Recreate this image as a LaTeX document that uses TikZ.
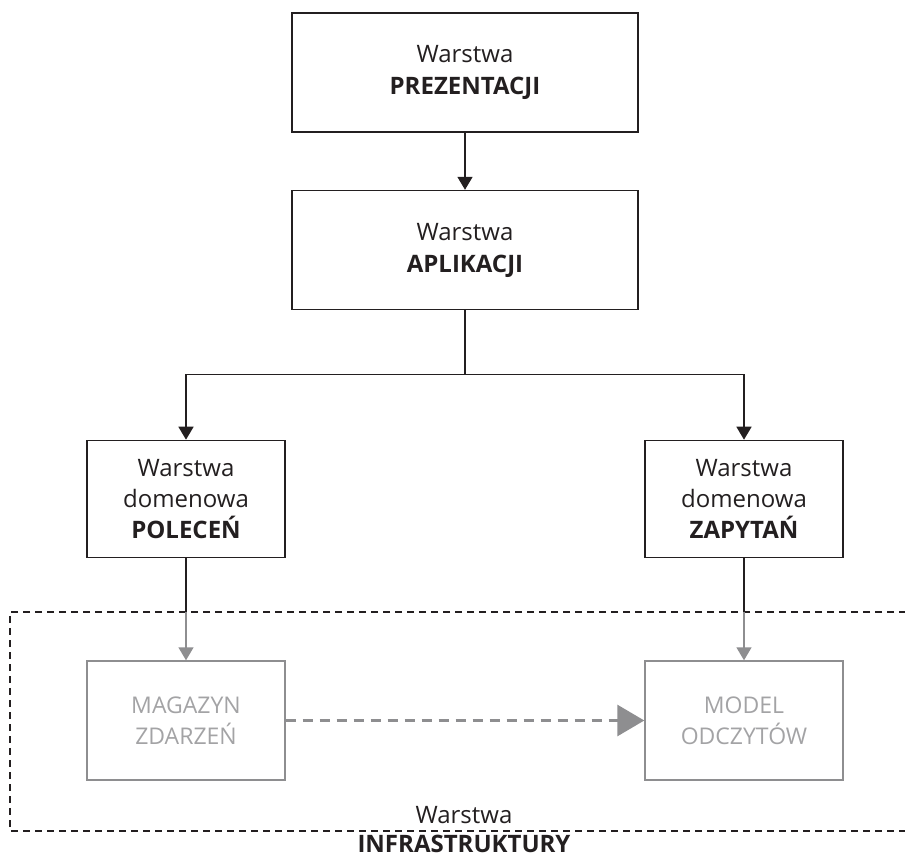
\documentclass[tikz,border=0pt]{standalone}
\usepackage{fontspec}
\setmainfont{Open Sans}
\usepackage{tikz}
\usetikzlibrary{arrows.meta, positioning}

\definecolor{darkline}{HTML}{231F20}
\definecolor{grayline}{HTML}{8E8E90}
\definecolor{graytext}{HTML}{A3A3A5}

\begin{document}
\begin{tikzpicture}[
    x=1pt, y=-1pt,
    node distance=57pt and 100pt,
    layer/.style={draw=darkline, line width=1.6pt, align=center, text=darkline, inner sep=0pt, minimum width=346pt, minimum height=119pt, font=\fontsize{24}{32}\selectfont, fill=white},
    domainbox/.style={layer, minimum width=198pt, minimum height=117pt, font=\fontsize{24}{31}\selectfont},
    infrabox/.style={draw=grayline, line width=1.4pt, align=center, text=graytext, inner sep=0pt, minimum width=198pt, minimum height=119pt, font=\fontsize{23}{31}\selectfont},
    arrow/.style={-{Triangle[length=13pt, width=15pt]}, line width=1.6pt, darkline},
    grayarrow/.style={-{Triangle[length=13pt, width=15pt]}, line width=1.4pt, grayline},
    eventflow/.style={-{Triangle[length=27pt, width=31pt]}, line width=3pt, grayline, dash pattern=on 10pt off 7pt},
    infraline/.style={line width=1.4pt, darkline, dash pattern=on 7pt off 5pt}
]
\useasboundingbox (0,0) rectangle (905,858);

\node[layer] (pres) at (465,72.5) {Warstwa\\\textbf{PREZENTACJI}};
\node[layer, below=of pres] (app) {Warstwa\\\textbf{APLIKACJI}};
\node[domainbox] (cmd) at (186,499) {Warstwa\\domenowa\\\textbf{POLECEŃ}};
\node[domainbox] (qry) at (744,499) {Warstwa\\domenowa\\\textbf{ZAPYTAŃ}};

\node[infrabox] (store) at (186,720.5) {MAGAZYN\\ZDARZEŃ};
\node[infrabox] (reads) at (744,720.5) {MODEL\\ODCZYTÓW};

% infrastructure frame, open on the right
\coordinate (infraTL) at (10,612);
\coordinate (infraBL) at (10,831);
\coordinate (infraTR) at (906,612);
\coordinate (infraBR) at (906,831);
\draw[infraline] (infraTR) -- (infraTL) -- (infraBL) -- (infraBR);
\node[anchor=base, inner sep=0pt, text=darkline, font=\fontsize{24}{28}\selectfont] (infraLabel) at (464,823) {Warstwa};
\node[anchor=base, inner sep=0pt, text=darkline, font=\fontsize{24}{28}\selectfont\bfseries] (infraName) at (464,852) {INFRASTRUKTURY};

\draw[arrow] (pres) -- (app);
\draw[arrow] (app.south) -- ++(0,64) -| (cmd.north);
\draw[arrow] (app.south) -- ++(0,64) -| (qry.north);

\draw[line width=1.6pt, darkline] (cmd.south) -- (cmd.south |- infraTL);
\draw[grayarrow] (cmd.south |- infraTL) -- (store.north);
\draw[line width=1.6pt, darkline] (qry.south) -- (qry.south |- infraTL);
\draw[grayarrow] (qry.south |- infraTL) -- (reads.north);

\draw[eventflow] (store) -- (reads);
\end{tikzpicture}
\end{document}
